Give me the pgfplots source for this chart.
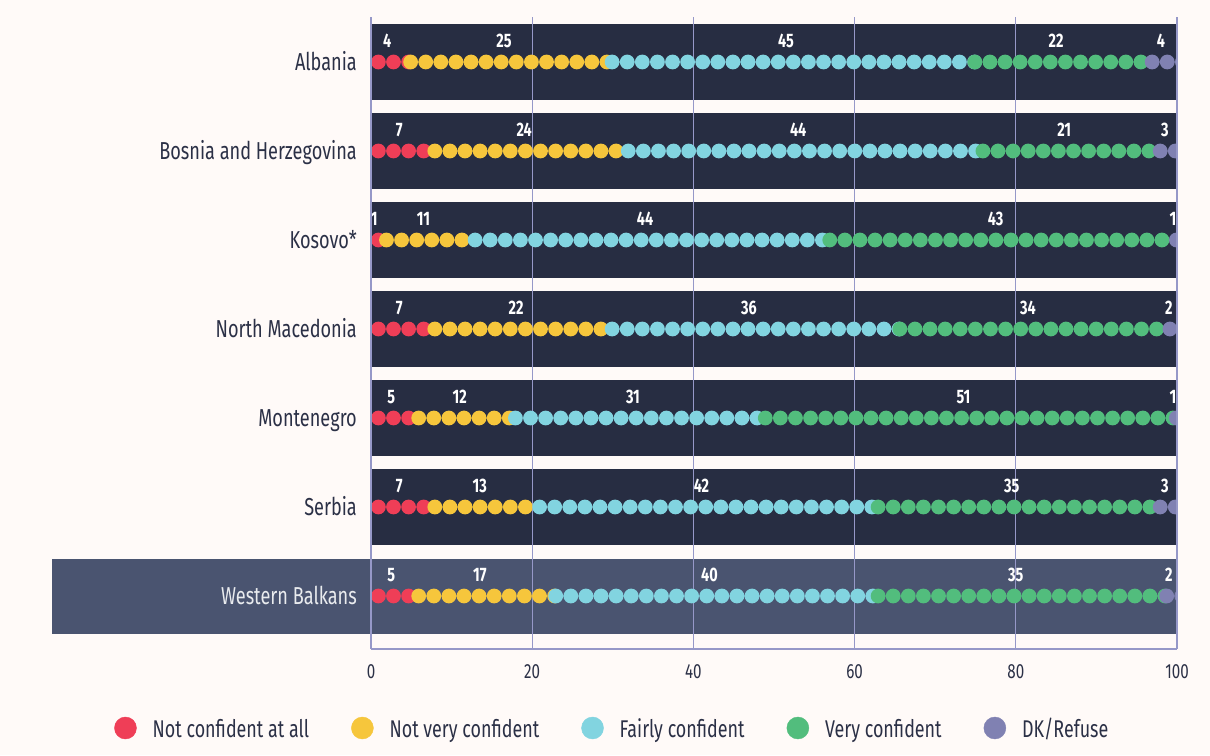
\documentclass[border=0pt]{standalone}
\usepackage{pgfplots}
\pgfplotsset{compat=1.18}
\usepackage{fontspec}
\setmainfont{Fira Sans}[FakeStretch=0.74]
\definecolor{bg}{HTML}{FFFAF8}
\definecolor{band}{HTML}{272D42}
\definecolor{wb}{HTML}{4A5470}
\definecolor{gridc}{HTML}{9698C8}
\definecolor{cR}{HTML}{EF3E57}
\definecolor{cY}{HTML}{F6C63C}
\definecolor{cC}{HTML}{82D4E0}
\definecolor{cG}{HTML}{52BD7D}
\definecolor{cP}{HTML}{8081B2}
\definecolor{txt}{HTML}{2B3046}
\pgfplotsset{
  dots/.style={forget plot, draw=#1, line width=14.8pt, line cap=round,
    dash pattern=on 0pt off 15.1pt, xshift=7.4pt, mark=none},
}
\tikzset{
  lab/.style={text=white, font=\bfseries\fontsize{19.5}{19.5}\selectfont, yshift=21pt, inner sep=0pt, anchor=center},
}
\newcommand\seg[4]{\addplot[dots=#1] coordinates {(#2,#4) (#3,#4)};}
\newcommand\lab[3]{\node[lab] at (axis cs:#1,#2) {#3};}
\begin{document}
\begin{tikzpicture}
\path[use as bounding box, fill=bg] (0,0) rectangle (1210pt,755pt);
% highlighted band behind the "Western Balkans" row (extends into the label area)
\fill[wb] (52pt,121pt) rectangle (1177pt,196pt);
\begin{axis}[
  at={(371pt,106pt)}, anchor=south west,
  scale only axis, width=806pt, height=632pt,
  xmin=0, xmax=100, ymin=0.4045, ymax=7.5056,
  axis on top,
  axis line style={draw=none}, tick style={draw=none}, major tick length=0pt,
  xtick={0,20,40,60,80,100},
  ytick={1,2,3,4,5,6,7},
  yticklabels={\textcolor{white!88!wb}{Western Balkans},Serbia,Montenegro,North Macedonia,Kosovo*,Bosnia and Herzegovina,Albania},
  /pgf/number format/assume math mode=true,
  xticklabel style={font=\fontsize{20.5}{24}\selectfont, text=txt, anchor=center, inner sep=0pt, yshift=-23pt},
  yticklabel style={font=\fontsize{24.5}{28}\selectfont, text=txt, anchor=east, inner sep=0pt, xshift=-14pt, text height=17pt, text depth=0pt},
  legend columns=5,
  legend cell align=left,
  legend style={at={(-0.3225,-0.125)}, anchor=west, draw=none, fill=none,
    font=\fontsize{24.2}{28}\selectfont, text=txt,
    nodes={inner sep=0pt, text depth=0pt},
    /tikz/every odd column/.append style={column sep=16pt},
    /tikz/every even column/.append style={column sep=42pt}},
]
% row bands
\pgfplotsinvokeforeach{2,3,4,5,6,7}{\fill[band] (axis cs:0,#1-0.427) rectangle (axis cs:100,#1+0.427);}
% grid
\pgfplotsinvokeforeach{0,20,40,60,80,100}{\draw[gridc, line width=1.3pt] (axis cs:#1,0.4045) -- (axis cs:#1,7.5056);}
% legend images
\addlegendimage{legend image code/.code={\fill[cR] (11pt,0pt) circle (11pt);}}\addlegendentry{Not confident at all}
\addlegendimage{legend image code/.code={\fill[cY] (11pt,0pt) circle (11pt);}}\addlegendentry{Not very confident}
\addlegendimage{legend image code/.code={\fill[cC] (11pt,0pt) circle (11pt);}}\addlegendentry{Fairly confident}
\addlegendimage{legend image code/.code={\fill[cG] (11pt,0pt) circle (11pt);}}\addlegendentry{Very confident}
\addlegendimage{legend image code/.code={\fill[cP] (11pt,0pt) circle (11pt);}}\addlegendentry{DK/Refuse}
% Albania
\seg{cR}{0}{4}{7}\seg{cY}{4}{29}{7}\seg{cC}{29}{74}{7}\seg{cG}{74}{96}{7}\seg{cP}{96}{100}{7}
\lab{2}{7}{4}\lab{16.5}{7}{25}\lab{51.5}{7}{45}\lab{85}{7}{22}\lab{98}{7}{4}
% Bosnia and Herzegovina
\seg{cR}{0}{7}{6}\seg{cY}{7}{31}{6}\seg{cC}{31}{75}{6}\seg{cG}{75}{97}{6}\seg{cP}{97}{100}{6}
\lab{3.5}{6}{7}\lab{19}{6}{24}\lab{53}{6}{44}\lab{86}{6}{21}\lab{98.5}{6}{3}
% Kosovo
\seg{cR}{0}{1}{5}\seg{cY}{1}{12}{5}\seg{cC}{12}{56}{5}\seg{cG}{56}{99}{5}\seg{cP}{99}{100}{5}
\lab{0.4}{5}{1}\lab{6.5}{5}{11}\lab{34}{5}{44}\lab{77.5}{5}{43}\lab{99.5}{5}{1}
% North Macedonia
\seg{cR}{0}{7}{4}\seg{cY}{7}{29}{4}\seg{cC}{29}{64.7}{4}\seg{cG}{64.7}{98.2}{4}\seg{cP}{98.2}{100}{4}
\lab{3.5}{4}{7}\lab{18}{4}{22}\lab{46.9}{4}{36}\lab{81.5}{4}{34}\lab{99}{4}{2}
% Montenegro
\seg{cR}{0}{5}{3}\seg{cY}{5}{17}{3}\seg{cC}{17}{48}{3}\seg{cG}{48}{99}{3}\seg{cP}{99}{100}{3}
\lab{2.5}{3}{5}\lab{11}{3}{12}\lab{32.5}{3}{31}\lab{73.5}{3}{51}\lab{99.5}{3}{1}
% Serbia
\seg{cR}{0}{7}{2}\seg{cY}{7}{20}{2}\seg{cC}{20}{62}{2}\seg{cG}{62}{97}{2}\seg{cP}{97}{100}{2}
\lab{3.5}{2}{7}\lab{13.5}{2}{13}\lab{41}{2}{42}\lab{79.5}{2}{35}\lab{98.5}{2}{3}
% Western Balkans
\seg{cR}{0}{5}{1}\seg{cY}{5}{22}{1}\seg{cC}{22}{62}{1}\seg{cG}{62}{97.8}{1}\seg{cP}{97.8}{100}{1}
\lab{2.5}{1}{5}\lab{13.5}{1}{17}\lab{42}{1}{40}\lab{80}{1}{35}\lab{99}{1}{2}
\end{axis}
% frame lines drawn unclipped over the axis edges
\draw[gridc, line width=1.3pt] (371pt,106pt) -- (1177pt,106pt);
\draw[gridc, line width=1.3pt] (371pt,106pt) -- (371pt,738pt);
\draw[gridc, line width=1.3pt] (1177pt,106pt) -- (1177pt,738pt);
\end{tikzpicture}
\end{document}
